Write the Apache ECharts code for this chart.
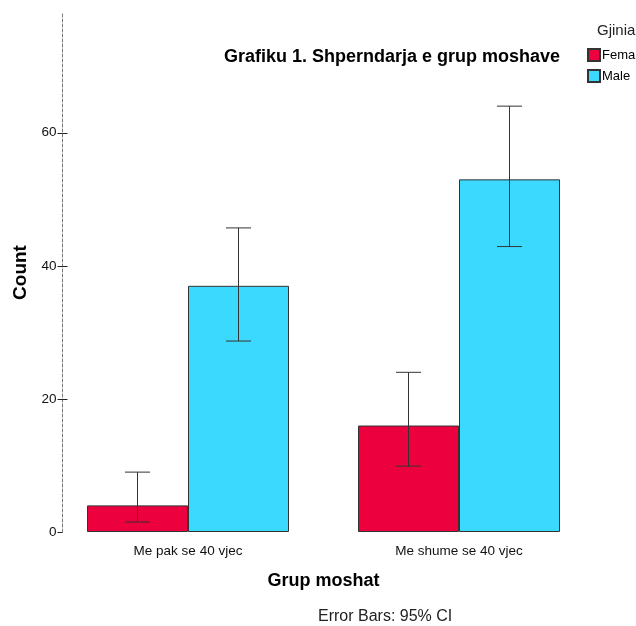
<!DOCTYPE html>
<html>
<head>
<meta charset="utf-8">
<script src="https://cdn.jsdelivr.net/npm/echarts@6/dist/echarts.min.js"></script>
<style>
  html, body { margin: 0; padding: 0; background: #fff; }
  #chart { width: 636px; height: 626px; }
</style>
</head>
<body>
<div id="chart"></div>
<script>
// data
const categories = ['Me pak se 40 vjec', 'Me shume se 40 vjec'];
const seriesNames = ['Female', 'Male'];
const femaleCount = [4, 16];
const maleCount = [37, 53];
// 95% CI bounds
const femaleLow = [1.5, 9.9];
const femaleHigh = [9, 24];
const maleLow = [28.7, 42.9];
const maleHigh = [45.7, 64];
const yTicks = [0, 20, 40, 60];

const font = 'Liberation Sans, Arial, sans-serif';
const barW = 101;

// error bar renderer, shift = pixel offset from category centre
function errorBar(shift) {
  return function (params, api) {
    const c = api.value(0);
    const lo = api.coord([c, api.value(1)]);
    const hi = api.coord([c, api.value(2)]);
    const x = Math.round(lo[0] + shift) - 0.5;
    const cap = 12.5;
    const st = { stroke: '#333', lineWidth: 1 };
    return {
      type: 'group',
      children: [
        { type: 'line', shape: { x1: x, y1: lo[1], x2: x, y2: hi[1] }, style: st },
        { type: 'line', shape: { x1: x - cap, y1: hi[1], x2: x + cap, y2: hi[1] }, style: st },
        { type: 'line', shape: { x1: x - cap, y1: lo[1], x2: x + cap, y2: lo[1] }, style: st }
      ]
    };
  };
}

const chart = echarts.init(document.getElementById('chart'));
chart.setOption({
  animation: false,
  textStyle: { fontFamily: font },
  title: {
    text: 'Grafiku 1. Shperndarja e grup moshave',
    left: 387, top: 43, textAlign: 'center',
    textStyle: { fontSize: 18, fontWeight: 'bold', color: '#000', fontFamily: font }
  },
  legend: {
    data: seriesNames,
    orient: 'vertical',
    left: 587, top: 48, padding: 0,
    itemWidth: 12, itemHeight: 12, itemGap: 7,
    icon: 'rect',
    textStyle: { fontSize: 13, color: '#000', padding: [0, 0, 0, -3] }
  },
  graphic: [
    { type: 'text', left: 597, top: 23, style: { text: 'Gjinia', font: '15px ' + font, fill: '#222' } },
    { type: 'text', left: 318, top: 609,
      style: { text: 'Error Bars: 95% CI', font: '16px ' + font, fill: '#222' } }
  ],
  grid: { left: 52.5, right: 41.5, top: 13, bottom: 94 },
  xAxis: {
    type: 'category',
    data: categories,
    axisLine: { show: false },
    axisTick: { alignWithLabel: true, length: 8, lineStyle: { color: '#222' } },
    axisLabel: { fontSize: 13.5, color: '#111', margin: 12 },
    name: 'Grup moshat',
    nameLocation: 'middle',
    nameGap: 40,
    nameTextStyle: { fontSize: 18, fontWeight: 'bold', color: '#000' }
  },
  yAxis: [{
    type: 'value',
    min: 0, max: 78, interval: 20,
    offset: -10,
    axisLine: { show: true, lineStyle: { color: '#777', type: [3, 2] } },
    axisTick: { show: true, length: 5, customValues: yTicks, lineStyle: { color: '#222' } },
    axisLabel: { customValues: yTicks, fontSize: 13.5, color: '#111', margin: 6 },
    splitLine: { show: false },
    name: 'Count',
    nameLocation: 'middle',
    nameGap: 32,
    nameTextStyle: { fontSize: 19, fontWeight: 'bold', color: '#000' }
  }, {
    // second copy only for the inner half of the "+" ticks
    type: 'value',
    min: 0, max: 78, interval: 20,
    offset: -10,
    position: 'left',
    axisLine: { show: true, lineStyle: { color: 'rgba(0,0,0,0)' } },
    axisTick: { show: true, inside: true, length: 5, customValues: yTicks.slice(1), lineStyle: { color: '#222' } },
    axisLabel: { show: false, customValues: yTicks.slice(1) },
    splitLine: { show: false }
  }],
  series: [
    {
      name: seriesNames[0], type: 'bar', data: femaleCount,
      barWidth: barW, barGap: '0%',
      itemStyle: { color: '#ec003d', borderColor: '#333', borderWidth: 1 }
    },
    {
      name: seriesNames[1], type: 'bar', data: maleCount,
      barWidth: barW, barGap: '0%',
      itemStyle: { color: '#3cd9ff', borderColor: '#333', borderWidth: 1 }
    },
    {
      type: 'custom', renderItem: errorBar(-barW / 2), z: 5,
      data: categories.map((c, i) => [i, femaleLow[i], femaleHigh[i]])
    },
    {
      type: 'custom', renderItem: errorBar(barW / 2), z: 5,
      data: categories.map((c, i) => [i, maleLow[i], maleHigh[i]])
    }
  ]
});
</script>
</body>
</html>
